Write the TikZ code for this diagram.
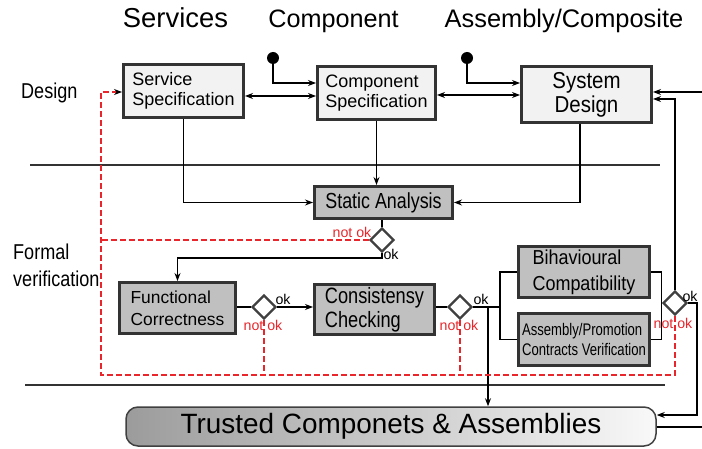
\documentclass[tikz,border=0pt]{standalone}
\usepackage{fontspec}
\setmainfont{Liberation Sans}
\newfontfamily\fA[FakeStretch=0.82]{Liberation Sans}
\newfontfamily\fB[FakeStretch=0.89]{Liberation Sans}
\newfontfamily\fC[FakeStretch=0.78]{Liberation Sans}
\newfontfamily\fD[FakeStretch=0.84]{Liberation Sans}
\usetikzlibrary{arrows.meta,shapes.geometric}
\definecolor{bdr}{HTML}{333333}
\definecolor{specfill}{HTML}{F2F2F2}
\definecolor{anafill}{HTML}{C0C0C0}
\definecolor{dred}{HTML}{E8262B}
\definecolor{diab}{HTML}{404040}
\begin{document}
\begin{tikzpicture}[x=1pt,y=-1pt,
  box/.style={draw=bdr, line width=3pt, inner sep=0pt, align=left},
  spec/.style={box, fill=specfill},
  ana/.style={box, fill=anafill},
  dia/.style={diamond, draw=diab, line width=2.3pt, fill=white, minimum width=24pt, minimum height=24pt, inner sep=0pt},
  conn/.style={line width=1.2pt, draw=black},
  arr/.style={conn, -{Stealth[length=8pt,width=6pt]}},
  darr/.style={conn, {Stealth[length=8pt,width=6pt]}-{Stealth[length=8pt,width=6pt]}},
  reddash/.style={draw=dred, line width=1.2pt, dash pattern=on 6pt off 3pt},
  rule/.style={draw=bdr, line width=1.2pt},
  lab/.style={inner sep=0pt, font=\fontsize{14.2}{16}\selectfont},
  nok/.style={lab, text=dred},
  head/.style={inner sep=0pt, anchor=base},
  side/.style={inner sep=0pt, anchor=base west, font=\fD\fontsize{21.5}{24}\selectfont},
  dotn/.style={circle, fill=black, minimum size=12pt, inner sep=0pt}
]
\useasboundingbox (0,0) rectangle (702,449);

% headers
\node[head, font=\fontsize{27.4}{30}\selectfont] (h1) at (175.5,28) {Services};
\node[head, font=\fontsize{25.2}{30}\selectfont] (h2) at (333.5,28) {Component};
\node[head, font=\fontsize{25.4}{30}\selectfont] (h3) at (564,28) {Assembly/Composite};
\node[side] (lD) at (21,99) {Design};
\node[side] (lF1) at (13,260) {Formal};
\node[side] (lF2) at (13,287) {verification};

% rules
\coordinate (r1a) at (30,165); \coordinate (r1b) at (660,165);
\coordinate (r2a) at (25,385); \coordinate (r2b) at (665,385);
\draw[rule] (r1a) -- (r1b);
\draw[rule] (r2a) -- (r2b);

% boxes
\node[spec, minimum width=120pt, minimum height=53pt, font=\fontsize{18}{20}\selectfont] (ss) at (183.5,91) {Service\\Specification};
\node[spec, minimum width=118pt, minimum height=53pt, font=\fontsize{18}{20}\selectfont] (cs) at (376.5,93) {Component\\Specification};
\node[spec, minimum width=130pt, minimum height=56pt, align=center, font=\fB\fontsize{23}{24}\selectfont] (sd) at (586.5,94.5) {System\\Design};
\node[ana, minimum width=138pt, minimum height=32pt, font=\fA\fontsize{21.8}{24}\selectfont] (sa) at (383.5,202.5) {Static Analysis};
\node[ana, minimum width=116pt, minimum height=51pt, font=\fontsize{17.4}{22}\selectfont] (fc) at (177.5,308) {Functional\\Correctness};
\node[ana, minimum width=120pt, minimum height=50pt, font=\fA\fontsize{22.2}{24}\selectfont] (cc) at (374.5,309.5) {Consistensy\\Checking};
\node[ana, minimum width=131pt, minimum height=51pt, font=\fB\fontsize{20.2}{26}\selectfont] (bc) at (584,272) {Bihavioural\\Compatibility};
\node[ana, minimum width=131pt, minimum height=52pt, font=\fC\fontsize{16.8}{20}\selectfont] (ap) at (584,339.5) {Assembly/Promotion\\Contracts Verification};
\node[draw=diab, line width=1.5pt, rounded corners=12pt, left color=gray!78, right color=gray!5, minimum width=530pt, minimum height=39pt, inner sep=0pt, font=\fontsize{27.9}{30}\selectfont] (tr) at (391,426.5) {Trusted Componets \& Assemblies};

% diamonds
\node[dia] (d1) at (382,240) {};
\node[dia] (d2) at (264,307) {};
\node[dia] (d3) at (460,307) {};
\node[dia] (d4) at (675,303) {};

% dots
\node[dotn] (dot1) at (273,58) {};
\node[dotn] (dot2) at (467,58) {};

% helper coordinates
\coordinate (y83) at (0,83);
\coordinate (y96) at (0,96);
\coordinate (y95) at (0,95);
\coordinate (y99) at (0,99);
\coordinate (y258) at (0,258);
\coordinate (rin) at (702,92);
\coordinate (fkx) at (500,307);
\coordinate (tap) at (488,307);
\coordinate (rc) at (697,415);
\coordinate (rout) at (702,427);
\coordinate (rbl) at (101,375);
\coordinate (rtl) at (101,92);
\coordinate (sdo) at (580,124);

% design level connectors
\draw[arr] (dot1) |- (cs.west |- y83);
\draw[arr] (dot2) |- (sd.west |- y83);
\draw[darr] (ss.east |- y96) -- (cs.west |- y96);
\draw[darr] (cs.east |- y95) -- (sd.west |- y95);
\draw[arr] (rin) -- (rin -| sd.east);
\draw[arr] (d4.north) |- (sd.east |- y99);

% to static analysis
\draw[arr] (ss.south) |- (sa.west);
\draw[arr] (cs.south) -- (cs.south |- sa.north);
\draw[arr] (sdo) |- (sa.east);
\draw[conn] (d1.north |- sa.south) -- (d1.north);

% formal verification flow
\draw[arr] (d1.south) -- (d1.south |- y258) -| (fc.north);
\draw[conn] (fc.east |- d2) -- (d2.west);
\draw[arr] (d2.east) -- (d2.east -| cc.west);
\draw[conn] (cc.east |- d3) -- (d3.west);
\draw[conn] (d3.east) -- (fkx);
\draw[conn] (bc.west) -| (fkx);
\draw[conn] (ap.west) -| (fkx);
\draw[arr] (tap) -- (tap |- tr.north);
\draw[conn] (bc.east) -| (d4.west);
\draw[conn] (ap.east) -| (d4.west);
\draw[arr] (d4.east) -| (rc) -- (rc -| tr.east);
\draw[conn] (tr.east |- rout) -- (rout);

% red dashed feedback
\draw[reddash, -{Stealth[length=8pt,width=6pt,color=black]}] (d4.south) |- (rbl) -- (rtl) -- (rtl -| ss.west);
\draw[reddash] (d3.south) -- (d3.south |- rbl);
\draw[reddash] (d2.south) -- (d2.south |- rbl);
\draw[reddash] (d1.west) -- (d1.west -| rbl);

% labels
\node[nok] (n1) at (352,232) {not ok};
\node[lab] (o1) at (391,254) {ok};
\node[lab] (o2) at (283,299) {ok};
\node[nok] (n2) at (263,325) {not ok};
\node[lab] (o3) at (481,299) {ok};
\node[nok] (n3) at (459,325) {not ok};
\node[lab] (o4) at (690,296) {ok};
\node[nok] (n4) at (673,323) {not ok};
\end{tikzpicture}
\end{document}
